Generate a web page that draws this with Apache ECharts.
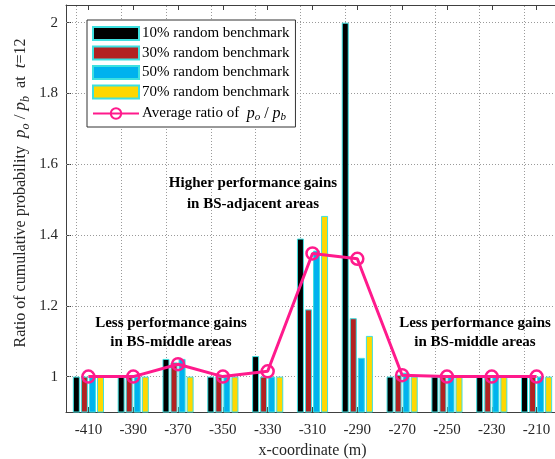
<!DOCTYPE html>
<html>
<head>
<meta charset="utf-8">
<script src="https://cdn.jsdelivr.net/npm/echarts@6/dist/echarts.min.js"></script>
<style>html,body{margin:0;padding:0;background:#fff;}#c{width:555px;height:459px;}</style>
</head>
<body>
<div id="c"></div>
<script>
const categories = ['-410','-390','-370','-350','-330','-310','-290','-270','-250','-230','-210'];
const bench10 = [1, 1, 1.05, 1, 1.058, 1.39, 2.0, 1, 1, 1, 1];
const bench30 = [1, 1, 1.04, 1, 1, 1.19, 1.165, 1.005, 1, 1, 1];
const bench50 = [1, 1, 1.05, 1, 1, 1.356, 1.053, 1.011, 1, 1, 1];
const bench70 = [1, 1, 1, 1, 1, 1.454, 1.115, 1, 1, 1, 1];
const avgRatio = [1, 1, 1.035, 1, 1.015, 1.348, 1.333, 1.004, 1, 1, 1];
const yTicks = [1, 1.2, 1.4, 1.6, 1.8, 2];
const seriesNames = ['10% random benchmark', '30% random benchmark', '50% random benchmark', '70% random benchmark', 'Average ratio of'];

const FONT = 'Liberation Serif';
const edge = '#3ee0e0';
const pink = '#ff1a8c';

const chart = echarts.init(document.getElementById('c'), null, {renderer: 'canvas'});

function bar(name, data, color) {
  return {
    name: name, type: 'bar', data: data, barWidth: 7, barGap: '15%',
    xAxisIndex: 0, yAxisIndex: 0,
    itemStyle: {color: color, borderColor: edge, borderWidth: 1},
    emphasis: {disabled: true}, animation: false, z: 2
  };
}

const gridLineStyle = {color: '#9a9a9a', type: [1, 2], width: 1};

const barSeries = [
  bar(seriesNames[0], bench10, '#000000'),
  bar(seriesNames[1], bench30, '#b22222'),
  bar(seriesNames[2], bench50, '#00b2ee'),
  bar(seriesNames[3], bench70, '#ffd700')
];
barSeries[0].markLine = {
  silent: true, symbol: 'none', animation: false, z: 1,
  label: {show: false}, lineStyle: gridLineStyle,
  data: categories.map(c => ({xAxis: c})).concat(yTicks.map(v => ({yAxis: v})))
};

const option = {
  animation: false,
  backgroundColor: '#fff',
  grid: {left: 66, top: 5, width: 493, height: 407, containLabel: false, outerBoundsMode: 'none'},
  legend: {
    orient: 'vertical', left: 87, top: 20,
    itemWidth: 46, itemHeight: 13, itemGap: 4.5,
    padding: [6, 6, 4, 5],
    backgroundColor: '#fff', borderColor: '#333', borderWidth: 1, borderRadius: 0,
    data: [
      {name: seriesNames[0], icon: 'rect'},
      {name: seriesNames[1], icon: 'rect'},
      {name: seriesNames[2], icon: 'rect'},
      {name: seriesNames[3], icon: 'rect'},
      {name: seriesNames[4]}
    ],
    formatter: function (n) {
      if (n === seriesNames[4]) return 'Average ratio of  {i|p}{s|o}{n| / }{i|p}{s|b}';
      return n;
    },
    textStyle: {
      fontFamily: FONT, fontSize: 15, lineHeight: 13, color: '#000', padding: [0, 0, 0, -2],
      rich: {
        i: {fontFamily: FONT, fontSize: 16, fontStyle: 'italic', color: '#000', lineHeight: 13},
        s: {fontFamily: FONT, fontSize: 11, fontStyle: 'italic', color: '#000', padding: [8, 0, 0, 0], lineHeight: 13},
        n: {fontFamily: FONT, fontSize: 16, color: '#000', lineHeight: 13}
      }
    }
  },
  xAxis: [{
    type: 'category', data: categories, position: 'bottom', boundaryGap: true,
    name: 'x-coordinate (m)', nameLocation: 'middle', nameGap: 31,
    nameTextStyle: {fontFamily: FONT, fontSize: 16, color: '#262626'},
    axisLine: {show: true, lineStyle: {color: '#404040', width: 1}},
    axisTick: {show: true, inside: true, alignWithLabel: true, length: 5, lineStyle: {color: '#404040'}},
    axisLabel: {fontFamily: FONT, fontSize: 15, color: '#262626', margin: 11},
    splitLine: {show: false}
  }, {
    type: 'category', data: categories, position: 'top', boundaryGap: true,
    axisLine: {show: true, lineStyle: {color: '#404040', width: 1}},
    axisTick: {show: true, inside: true, alignWithLabel: true, length: 5, lineStyle: {color: '#404040'}},
    axisLabel: {show: false}, splitLine: {show: false}
  }],
  yAxis: [{
    type: 'value', min: 0.9, max: 2.05, position: 'left',
    axisLine: {show: true, lineStyle: {color: '#404040', width: 1}},
    axisTick: {show: true, inside: true, length: 5, customValues: yTicks, lineStyle: {color: '#404040'}},
    axisLabel: {fontFamily: FONT, fontSize: 15, color: '#262626', margin: 8, customValues: yTicks,
      formatter: v => String(Math.round(v * 10) / 10)},
    splitLine: {show: false}
  }],
  series: barSeries.concat([{
    name: seriesNames[4], type: 'line', data: avgRatio,
    xAxisIndex: 0, yAxisIndex: 0,
    symbol: 'circle', symbolSize: 12, showSymbol: true,
    lineStyle: {color: pink, width: 3},
    itemStyle: {color: 'rgba(0,0,0,0)', borderColor: pink, borderWidth: 2.5},
    emphasis: {disabled: true}, z: 5, animation: false
  }]),
  graphic: [
    {
      type: 'text', x: 21, y: 193, rotation: Math.PI / 2,
      style: {
        text: 'Ratio of cumulative probability  {i|p}{s|o}{n| / }{i|p}{s|b}  at  {i|t}=12',
        fontFamily: FONT, fontSize: 16, fill: '#262626', align: 'center', verticalAlign: 'middle',
        rich: {
          i: {fontFamily: FONT, fontSize: 17, fontStyle: 'italic', fill: '#262626'},
          s: {fontFamily: FONT, fontSize: 12, fontStyle: 'italic', fill: '#262626', padding: [10, 0, 0, 0]},
          n: {fontFamily: FONT, fontSize: 17, fill: '#262626'}
        }
      }
    },
    {
      type: 'text', x: 253, y: 194, z: 10,
      style: {text: 'Higher performance gains\nin BS-adjacent areas', fontFamily: FONT, fontSize: 15, fontWeight: 'bold',
        fill: '#000', align: 'center', verticalAlign: 'middle', lineHeight: 21}
    },
    {
      type: 'text', x: 171, y: 333, z: 10,
      style: {text: 'Less performance gains\nin BS-middle areas', fontFamily: FONT, fontSize: 15, fontWeight: 'bold',
        fill: '#000', align: 'center', verticalAlign: 'middle', lineHeight: 19}
    },
    {
      type: 'text', x: 475, y: 333, z: 10,
      style: {text: 'Less performance gains\nin BS-middle areas', fontFamily: FONT, fontSize: 15, fontWeight: 'bold',
        fill: '#000', align: 'center', verticalAlign: 'middle', lineHeight: 19}
    }
  ]
};
chart.setOption(option);
</script>
</body>
</html>
